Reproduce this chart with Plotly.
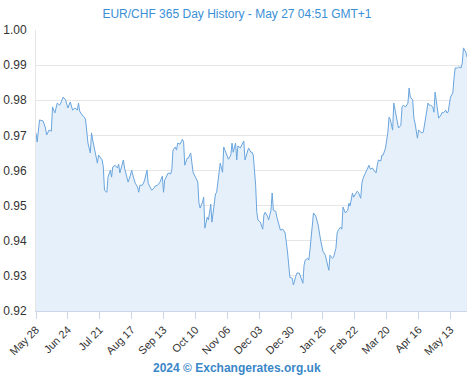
import plotly.graph_objects as go

dates = [
"2023-05-28","2023-05-29","2023-05-31","2023-06-03","2023-06-05","2023-06-06","2023-06-08","2023-06-10","2023-06-11","2023-06-13",
"2023-06-15","2023-06-17","2023-06-18","2023-06-19","2023-06-20","2023-06-22","2023-06-23","2023-06-24","2023-06-26","2023-06-27",
"2023-06-28","2023-06-30","2023-07-02","2023-07-03","2023-07-04","2023-07-06","2023-07-08","2023-07-09","2023-07-10","2023-07-11",
"2023-07-13","2023-07-14","2023-07-15","2023-07-17","2023-07-19","2023-07-20","2023-07-21","2023-07-23","2023-07-24","2023-07-25",
"2023-07-27","2023-07-28","2023-07-30","2023-07-31","2023-08-01","2023-08-03","2023-08-05","2023-08-06","2023-08-07","2023-08-09",
"2023-08-10","2023-08-11","2023-08-13","2023-08-14","2023-08-16","2023-08-17","2023-08-18","2023-08-20","2023-08-22","2023-08-23",
"2023-08-24","2023-08-26","2023-08-27","2023-08-28","2023-08-30","2023-08-31","2023-09-02","2023-09-03","2023-09-05","2023-09-06",
"2023-09-08","2023-09-10","2023-09-12","2023-09-13","2023-09-14","2023-09-16","2023-09-17","2023-09-19","2023-09-20","2023-09-21",
"2023-09-23","2023-09-24","2023-09-25","2023-09-27","2023-09-29","2023-09-30","2023-10-01","2023-10-03","2023-10-04","2023-10-06",
"2023-10-07","2023-10-08","2023-10-10","2023-10-12","2023-10-13","2023-10-14","2023-10-16","2023-10-17","2023-10-18","2023-10-20",
"2023-10-21","2023-10-23","2023-10-24","2023-10-25","2023-10-27","2023-10-28","2023-10-29","2023-10-31","2023-11-02","2023-11-03",
"2023-11-04","2023-11-06","2023-11-07","2023-11-09","2023-11-10","2023-11-11","2023-11-13","2023-11-14","2023-11-15","2023-11-17",
"2023-11-19","2023-11-20","2023-11-21","2023-11-23","2023-11-24","2023-11-26","2023-11-27","2023-11-28","2023-11-30","2023-12-01",
"2023-12-02","2023-12-04","2023-12-06","2023-12-07","2023-12-08","2023-12-10","2023-12-11","2023-12-13","2023-12-14","2023-12-15",
"2023-12-17","2023-12-18","2023-12-20","2023-12-21","2023-12-23","2023-12-25","2023-12-27","2023-12-28","2023-12-29","2023-12-31",
"2024-01-01","2024-01-03","2024-01-04","2024-01-06","2024-01-07","2024-01-09","2024-01-10","2024-01-11","2024-01-13","2024-01-14",
"2024-01-15","2024-01-17","2024-01-18","2024-01-20","2024-01-21","2024-01-22","2024-01-24","2024-01-25","2024-01-26","2024-01-28",
"2024-01-30","2024-01-31","2024-02-01","2024-02-03","2024-02-04","2024-02-06","2024-02-07","2024-02-08","2024-02-10","2024-02-11",
"2024-02-12","2024-02-14","2024-02-16","2024-02-17","2024-02-18","2024-02-20","2024-02-21","2024-02-23","2024-02-24","2024-02-25",
"2024-02-27","2024-02-28","2024-02-29","2024-03-02","2024-03-04","2024-03-05","2024-03-06","2024-03-08","2024-03-09","2024-03-11",
"2024-03-12","2024-03-13","2024-03-15","2024-03-16","2024-03-17","2024-03-19","2024-03-21","2024-03-22","2024-03-23","2024-03-25",
"2024-03-26","2024-03-28","2024-03-29","2024-03-30","2024-04-01","2024-04-02","2024-04-03","2024-04-05","2024-04-07","2024-04-08",
"2024-04-09","2024-04-11","2024-04-12","2024-04-13","2024-04-15","2024-04-16","2024-04-18","2024-04-19","2024-04-20","2024-04-22",
"2024-04-24","2024-04-25","2024-04-26","2024-04-28","2024-04-29","2024-04-30","2024-05-02","2024-05-03","2024-05-05","2024-05-06",
"2024-05-07","2024-05-09","2024-05-10","2024-05-11","2024-05-13","2024-05-15","2024-05-16","2024-05-17","2024-05-19","2024-05-20",
"2024-05-22","2024-05-23","2024-05-24","2024-05-26","2024-05-27",
]

rates = [
0.9707,0.9681,0.9744,0.9741,0.9721,0.9701,0.9715,0.9712,0.9781,0.9764,
0.9792,0.9786,0.9792,0.9801,0.9809,0.9801,0.9786,0.9778,0.9795,0.9781,
0.9772,0.9778,0.9772,0.9792,0.9769,0.9758,0.9752,0.9744,0.9707,0.9678,
0.9650,0.9707,0.9687,0.9652,0.9621,0.9644,0.9638,0.9630,0.9610,0.9544,
0.9538,0.9581,0.9601,0.9581,0.9610,0.9615,0.9607,0.9618,0.9593,0.9621,
0.9630,0.9607,0.9581,0.9567,0.9587,0.9601,0.9587,0.9564,0.9553,0.9538,
0.9558,0.9558,0.9564,0.9573,0.9601,0.9564,0.9550,0.9544,0.9550,0.9556,
0.9558,0.9567,0.9584,0.9538,0.9573,0.9584,0.9593,0.9590,0.9601,0.9658,
0.9667,0.9658,0.9678,0.9675,0.9689,0.9681,0.9615,0.9635,0.9635,0.9650,
0.9624,0.9595,0.9581,0.9567,0.9507,0.9493,0.9510,0.9524,0.9436,0.9467,
0.9459,0.9504,0.9453,0.9481,0.9533,0.9538,0.9573,0.9621,0.9595,0.9667,
0.9658,0.9638,0.9632,0.9644,0.9678,0.9652,0.9678,0.9630,0.9670,0.9664,
0.9678,0.9684,0.9630,0.9652,0.9664,0.9652,0.9652,0.9644,0.9558,0.9481,
0.9459,0.9453,0.9433,0.9473,0.9481,0.9470,0.9459,0.9487,0.9536,0.9487,
0.9484,0.9467,0.9442,0.9430,0.9433,0.9422,0.9368,0.9322,0.9296,0.9293,
0.9274,0.9299,0.9308,0.9308,0.9296,0.9279,0.9330,0.9345,0.9350,0.9345,
0.9373,0.9439,0.9479,0.9470,0.9456,0.9444,0.9402,0.9387,0.9370,0.9359,
0.9333,0.9316,0.9359,0.9350,0.9353,0.9379,0.9422,0.9430,0.9439,0.9433,
0.9496,0.9479,0.9487,0.9507,0.9499,0.9536,0.9524,0.9536,0.9541,0.9538,
0.9521,0.9564,0.9578,0.9593,0.9610,0.9615,0.9604,0.9607,0.9601,0.9593,
0.9615,0.9630,0.9627,0.9644,0.9644,0.9664,0.9709,0.9752,0.9746,0.9715,
0.9792,0.9752,0.9744,0.9721,0.9729,0.9781,0.9786,0.9781,0.9792,0.9835,
0.9809,0.9801,0.9749,0.9735,0.9692,0.9715,0.9709,0.9707,0.9709,0.9749,
0.9792,0.9786,0.9786,0.9781,0.9766,0.9823,0.9764,0.9749,0.9758,0.9766,
0.9764,0.9772,0.9764,0.9766,0.9809,0.9821,0.9863,0.9892,0.9892,0.9895,
0.9892,0.9906,0.9949,0.9937,0.9923,
]

tick_dates = ["2023-05-28","2023-06-24","2023-07-21","2023-08-17","2023-09-13","2023-10-10",
              "2023-11-06","2023-12-03","2023-12-30","2024-01-26","2024-02-22","2024-03-20",
              "2024-04-16","2024-05-13"]
tick_labels = ["May 28","Jun 24","Jul 21","Aug 17","Sep 13","Oct 10","Nov 06","Dec 03",
               "Dec 30","Jan 26","Feb 22","Mar 20","Apr 16","May 13"]
y_ticks = [0.92, 0.93, 0.94, 0.95, 0.96, 0.97, 0.98, 0.99, 1.00]

title_text = "EUR/CHF 365 Day History - May 27 04:51 GMT+1"
credit_text = "2024 © Exchangerates.org.uk"

FONT = "Liberation Sans, Arial, sans-serif"

fig = go.Figure()
fig.add_trace(go.Scatter(
    x=dates, y=rates, mode="lines",
    line=dict(color="#6aa5de", width=1),
    fill="tozeroy", fillcolor="#e6f0fa",
    hoverinfo="x+y", showlegend=False,
))

fig.update_layout(
    width=474, height=383,
    margin=dict(l=36, r=7, t=30, b=72, autoexpand=False),
    paper_bgcolor="white", plot_bgcolor="white",
    font=dict(family=FONT, size=11, color="#333333"),
    title=dict(text=title_text, x=0.5, xanchor="center", y=1 - 14 / 383, yanchor="middle",
               font=dict(family=FONT, size=12, color="#3a8fd6")),
    annotations=[dict(text="<b>" + credit_text + "</b>", xref="paper", yref="paper",
                      x=0.5 - (36 - 7) / 2 / 431, y=-(368 - 311) / 281, xanchor="center",
                      yanchor="middle", showarrow=False,
                      font=dict(family=FONT, size=12, color="#3a87c8"))],
    xaxis=dict(
        type="date", range=["2023-05-28", "2024-05-27"], automargin=False,
        tickvals=tick_dates, ticktext=tick_labels, tickangle=-45,
        showgrid=False, showline=True, linecolor="#ccd6eb", linewidth=1,
        ticks="outside", ticklen=7, tickcolor="#ccd6eb",
        tickfont=dict(family=FONT, size=11, color="#333333"), zeroline=False,
    ),
    yaxis=dict(
        range=[0.92, 1.00], tickvals=y_ticks, tickformat=".2f", automargin=False,
        showgrid=True, gridcolor="#e6e6e6", gridwidth=1,
        showline=True, linecolor="#e6e6e6", zeroline=False,
        ticks="", ticklabelstandoff=6,
        tickfont=dict(family=FONT, size=12, color="#333333"),
    ),
)

fig.write_html("out.html", config={"displayModeBar": False},
               post_script="document.body.style.margin='0';document.body.style.overflow='hidden';")
